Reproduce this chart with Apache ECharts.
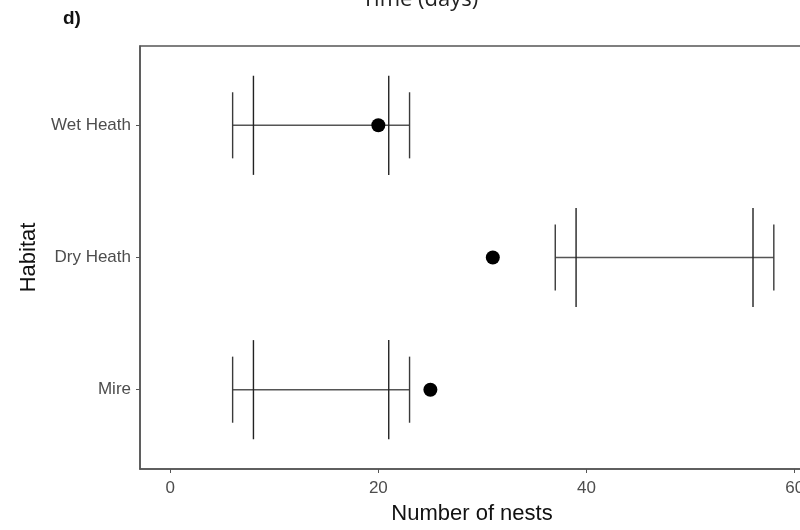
<!DOCTYPE html>
<html>
<head>
<meta charset="utf-8">
<script src="https://cdn.jsdelivr.net/npm/echarts@6/dist/echarts.min.js"></script>
<style>
  html, body { margin: 0; padding: 0; background: #fff; }
  #chart { width: 800px; height: 530px; }
</style>
</head>
<body>
<div id="chart"></div>
<script>
// habitats, bottom to top (y = 1, 2, 3)
var habitats = ['Mire', 'Dry Heath', 'Wet Heath'];
var habitatPos = [1, 2, 3];
// observed value (dot)
var observed = [25, 31, 20];
// outer interval: horizontal line with short caps
var outerLow = [6, 37, 6];
var outerHigh = [23, 58, 23];
// inner interval: long vertical marks
var innerLow = [8, 39, 8];
var innerHigh = [21, 56, 21];
var xTicks = [0, 20, 40, 60];

var font = '"Liberation Sans", Arial, sans-serif';

var chart = echarts.init(document.getElementById('chart'));

// rows for the custom series: [y, outerLow, outerHigh, innerLow, innerHigh]
var barRows = habitats.map(function (h, i) {
  return [habitatPos[i], outerLow[i], outerHigh[i], innerLow[i], innerHigh[i]];
});
var pointRows = habitats.map(function (h, i) {
  return [observed[i], habitatPos[i]];
});

function renderBars(params, api) {
  var y = api.value(0);
  var a = api.coord([api.value(1), y]);
  var b = api.coord([api.value(2), y]);
  var shortH = api.size([0, 0.25])[1];
  var longH = api.size([0, 0.375])[1];
  var capStyle = { stroke: '#3a3a3a', lineWidth: 1.4 };
  var kids = [
    { type: 'line', shape: { x1: a[0], y1: a[1], x2: b[0], y2: b[1] }, style: { stroke: '#555', lineWidth: 1.4 } },
    { type: 'line', shape: { x1: a[0], y1: a[1] - shortH, x2: a[0], y2: a[1] + shortH }, style: capStyle },
    { type: 'line', shape: { x1: b[0], y1: b[1] - shortH, x2: b[0], y2: b[1] + shortH }, style: capStyle }
  ];
  [api.value(3), api.value(4)].forEach(function (v) {
    var p = api.coord([v, y]);
    kids.push({ type: 'line', shape: { x1: p[0], y1: p[1] - longH, x2: p[0], y2: p[1] + longH }, style: { stroke: '#222', lineWidth: 1.4 } });
  });
  return { type: 'group', children: kids };
}

chart.setOption({
  animation: false,
  backgroundColor: '#fff',
  grid: {
    left: 140, top: 46, right: -4, height: 423,
    outerBoundsMode: 'none',
    containLabel: false,
    show: true, borderColor: '#555', borderWidth: 1.5, backgroundColor: 'transparent'
  },
  xAxis: {
    type: 'value',
    min: -2.9, max: 60.9,
    name: 'Number of nests',
    nameLocation: 'middle',
    nameGap: 34,
    nameTextStyle: { color: '#111', fontSize: 22, fontFamily: font },
    axisLine: { show: true, onZero: false, lineStyle: { color: '#555', width: 1.5 } },
    axisTick: { show: true, length: 4, customValues: xTicks, lineStyle: { color: '#555' } },
    axisLabel: { customValues: xTicks, color: '#4d4d4d', fontSize: 17, fontFamily: font, margin: 11 },
    splitLine: { show: false }
  },
  yAxis: {
    type: 'value',
    min: 0.4, max: 3.6,
    name: 'Habitat',
    nameLocation: 'middle',
    nameGap: 100,
    nameRotate: 90,
    nameTextStyle: { color: '#111', fontSize: 22, fontFamily: font },
    axisLine: { show: true, onZero: false, lineStyle: { color: '#555', width: 1.5 } },
    axisTick: { show: true, length: 4, customValues: habitatPos, lineStyle: { color: '#555' } },
    axisLabel: {
      customValues: habitatPos,
      color: '#4d4d4d', fontSize: 17, fontFamily: font, margin: 9,
      formatter: function (v) { return habitats[Math.round(v) - 1]; }
    },
    splitLine: { show: false }
  },
  graphic: [
    { type: 'text', left: 63, top: 9, style: { text: 'd)', font: 'bold 19px ' + font, fill: '#111' } },
    { type: 'text', left: 362, top: -11, style: { text: 'Time (days)', font: '22px "Open Sans", "DejaVu Sans", sans-serif', fill: '#222' } }
  ],
  series: [
    {
      type: 'custom',
      renderItem: renderBars,
      encode: { x: [1, 2, 3, 4], y: 0 },
      data: barRows,
      z: 2
    },
    {
      type: 'scatter',
      data: pointRows,
      symbol: 'circle',
      symbolSize: 14,
      itemStyle: { color: '#000', opacity: 1 },
      z: 3
    }
  ]
});
</script>
</body>
</html>
